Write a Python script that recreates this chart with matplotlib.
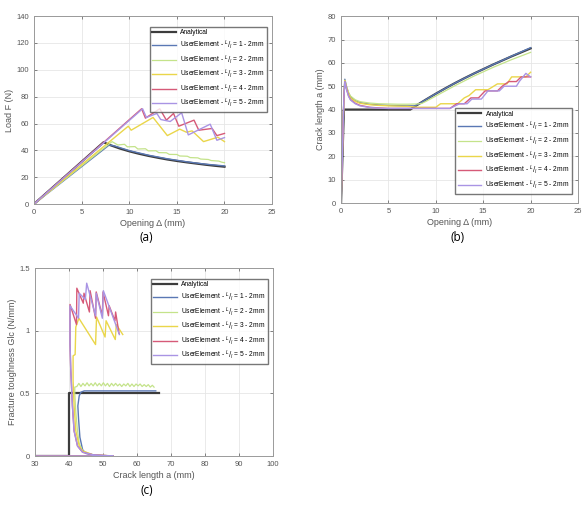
import matplotlib
matplotlib.use("Agg")
import matplotlib.pyplot as plt

plt.rcParams['font.family'] = ['Liberation Sans', 'DejaVu Sans']

# (a) Load F vs opening
d_an = [0, 7.3, 8, 9, 10, 11, 12, 13, 14, 15, 16, 17, 18, 19, 20]
F_an = [0, 46, 43.9, 41.4, 39.3, 37.5, 35.9, 34.5, 33.2, 32.1, 31.1, 30.2, 29.3, 28.5, 27.8]

d_1 = [0, 7.9, 8.5, 10, 12, 14, 16, 18, 20]
F_1 = [0, 44, 43.2, 39.8, 36.4, 33.7, 31.5, 29.7, 28.4]

d_2 = [0, 8.2, 8.8, 9.5, 9.8, 10.6, 10.9, 11.7, 12.0, 12.8, 13.1, 13.9, 14.2, 15.0,
       15.3, 16.1, 16.4, 17.2, 17.5, 18.3, 18.6, 19.4, 19.7, 20]
F_2 = [0, 46.5, 44.0, 44.5, 42.6, 42.8, 41.0, 41.2, 39.6, 39.7, 38.3, 38.2, 37.0, 36.9,
       35.8, 35.6, 34.6, 34.4, 33.5, 33.2, 32.4, 32.0, 31.2, 30.8]

d_3 = [0, 9.9, 10.2, 12.5, 14.0, 15.3, 16.0, 16.6, 17.8, 19.3, 20]
F_3 = [0, 58, 55, 64.5, 51, 55.8, 53.5, 54.5, 46.5, 49.8, 46.5]

d_4 = [0, 11.3, 11.7, 13.2, 13.9, 14.65, 15.2, 16.8, 17.3, 18.7, 19.2, 20]
F_4 = [0, 71, 64, 71, 62.5, 67.5, 58, 62.5, 55, 56.3, 51, 52.6]

d_5 = [0, 11.4, 11.8, 12.9, 13.3, 14.3, 15.5, 16.2, 18.5, 19.2, 20]
F_5 = [0, 71, 64.5, 67.5, 63, 61.5, 68, 51.5, 59.5, 47.5, 49.5]

# (b) crack length vs opening
db_an = [0, 0.3, 7.3, 8, 9, 10, 11, 12, 13, 14, 15, 16, 17, 18, 19, 20]
a_an = [0, 40, 40, 41.9, 44.4, 46.8, 49.1, 51.3, 53.4, 55.4, 57.3, 59.2, 61.0, 62.8, 64.5, 66.2]

db_1 = [0, 0.3, 0.4, 0.6, 0.8, 1, 1.5, 2, 3, 4, 5, 6, 7, 7.8, 8.2, 9, 10, 12, 14, 16, 18, 20]
a_1 = [0, 45, 53, 49.5, 47, 45.5, 43.8, 43, 42.3, 42, 41.8, 41.7, 41.6, 41.6, 42.4,
       44.4, 46.8, 51.3, 55.4, 59.2, 62.9, 66.5]

db_2 = [0, 0.3, 0.4, 0.6, 0.8, 1, 1.5, 2, 3, 4, 5, 6, 7, 8, 8.5, 9, 10, 12, 14, 16, 18, 20]
a_2 = [0, 45, 52.5, 49.5, 47.2, 45.8, 44.2, 43.4, 42.8, 42.5, 42.4, 42.3, 42.3, 42.4, 42.6,
       43.6, 45.8, 50.2, 54.3, 58.0, 61.4, 64.5]

db_3 = [0, 0.3, 0.4, 0.6, 0.8, 1, 1.5, 2, 3, 4, 5, 6, 7, 8, 10, 10.5, 12.3, 13, 13.5, 14.2,
        15.5, 16.5, 17.5, 18, 19.5, 20]
a_3 = [0, 45, 52.5, 49, 46.5, 45, 43.5, 42.7, 42.1, 41.8, 41.6, 41.5, 41.4, 41, 41, 42.5,
       42.5, 45, 46, 48.5, 48.5, 51, 51, 54, 54, 56]

db_4 = [0, 0.3, 0.4, 0.6, 0.8, 1, 1.5, 2, 3, 4, 5, 11.5, 12.2, 13, 13.7, 14.5, 15.2, 16.5,
        17, 17.7, 18.5, 19, 20]
a_4 = [0, 45, 52, 48.5, 45.8, 44.3, 42.7, 41.8, 41.0, 40.7, 40.5, 40.5, 42.5, 42.5, 45, 45,
       48, 48, 50, 52, 52, 54, 54]

db_5 = [0, 0.3, 0.4, 0.6, 0.8, 1, 1.5, 2, 3, 4, 5, 11.5, 12.5, 13.3, 13.8, 14.8, 15.5, 16.7,
        17.2, 18.5, 18.8, 19.5, 20]
a_5 = [0, 45, 52, 48.3, 45.6, 44.1, 42.5, 41.6, 40.9, 40.6, 40.5, 40.5, 42.5, 42.5, 44.5,
       44.5, 48, 48, 50, 50, 52, 55.5, 54]

# (c) fracture toughness vs crack length
ac_an = [30, 40, 40, 66.5]
G_an = [0, 0, 0.5, 0.5]

ac_1 = [30, 53, 48, 45, 44, 43.2, 42.8, 42.6, 43, 43.5, 44.5, 65.5]
G_1 = [0, 0, 0.005, 0.02, 0.05, 0.15, 0.3, 0.4, 0.48, 0.51, 0.52, 0.52]

ac_2 = [30, 53, 47, 44, 43, 42.5, 42, 41.7, 41.7, 42.3, 42.9, 43.5, 44.1, 44.7, 45.3, 45.9,
        46.5, 47.1, 47.7, 48.3, 48.9, 49.5, 50.1, 50.7, 51.3, 51.9, 52.5, 53.1, 53.7, 54.3,
        54.9, 55.5, 56.1, 56.7, 57.3, 57.9, 58.5, 59.1, 59.7, 60.3, 60.9, 61.5, 62.1, 62.7,
        63.3, 63.9, 64.5, 65]
G_2 = [0, 0, 0.01, 0.04, 0.1, 0.2, 0.35, 0.5, 0.55, 0.555, 0.58, 0.555, 0.58, 0.56, 0.585,
       0.56, 0.58, 0.56, 0.585, 0.56, 0.58, 0.56, 0.585, 0.56, 0.58, 0.555, 0.58, 0.56, 0.58,
       0.56, 0.575, 0.555, 0.575, 0.56, 0.58, 0.555, 0.575, 0.555, 0.575, 0.56, 0.575, 0.555,
       0.57, 0.555, 0.57, 0.55, 0.565, 0.55]

ac_3 = [30, 53, 47, 44, 43, 42, 41.5, 41.2, 41.2, 41.8, 42.0, 42.9, 47.8, 48.1, 50.6, 50.9,
        53.6, 53.9, 55.8]
G_3 = [0, 0, 0.01, 0.04, 0.08, 0.2, 0.4, 0.6, 0.8, 0.81, 1.03, 1.1, 0.89, 1.11, 0.95,
       1.08, 0.93, 1.05, 0.97]

ac_4 = [30, 53, 47, 44, 42.5, 41.5, 41, 40.5, 40.3, 40.3, 42.2, 42.3, 44.2, 44.4, 46.0, 46.2,
        47.8, 48.0, 49.8, 50.0, 51.6, 51.8, 53.5, 53.7, 54.7]
G_4 = [0, 0, 0.01, 0.03, 0.08, 0.2, 0.4, 0.7, 0.9, 1.21, 1.05, 1.34, 1.22, 1.30, 1.15, 1.32,
       1.10, 1.31, 1.12, 1.31, 1.12, 1.20, 1.08, 1.15, 0.98]

ac_5 = [30, 53, 47, 44, 42.5, 41.5, 41, 40.5, 40.3, 40.3, 42.8, 43.0, 44.8, 45.2, 47.8, 48.0,
        49.8, 50.1, 54.8]
G_5 = [0, 0, 0.01, 0.03, 0.08, 0.2, 0.4, 0.7, 0.9, 1.20, 1.10, 1.30, 1.25, 1.38, 1.12, 1.30,
       1.10, 1.32, 0.97]

labels = ['Analytical'] + [r'UserElement - $^{L}/_{l}$ = %d - 2mm' % i for i in range(1, 6)]
colors = ['#3c3c3c', '#5a78b4', '#c4e38a', '#ead64a', '#d65a78', '#a994e4']
widths = [1.6, 1.0, 0.9, 1.0, 1.0, 1.0]


def style(ax):
    ax.grid(True, color='#e6e6e6', linewidth=0.6)
    ax.set_axisbelow(True)
    for s in ax.spines.values():
        s.set_color('#9a9a9a')
        s.set_linewidth(0.7)
    ax.tick_params(labelsize=5.5, colors='#555555', length=2, width=0.5,
                   direction='in', top=True, right=True)


def draw(ax, series):
    for (x, y), c, w, l in zip(series, colors, widths, labels):
        ax.plot(x, y, color=c, linewidth=w, label=l)


def legend(ax, loc, anchor):
    ax.legend(loc=loc, bbox_to_anchor=anchor, fontsize=4.8, frameon=True, fancybox=False,
              edgecolor='#555555', handlelength=3.5, labelspacing=0.32, borderpad=0.4,
              handletextpad=0.6, borderaxespad=0.3)


fig = plt.figure(figsize=(5.88, 5.05), dpi=100)

axa = fig.add_axes([0.0578, 0.596, 0.405, 0.372])
draw(axa, [(d_an, F_an), (d_1, F_1), (d_2, F_2), (d_3, F_3), (d_4, F_4), (d_5, F_5)])
axa.set_xlim(0, 25)
axa.set_ylim(0, 140)
axa.set_xlabel('Opening Δ (mm)', fontsize=6.5, color='#555555', labelpad=2)
axa.set_ylabel('Load F (N)', fontsize=6.5, color='#555555', labelpad=2)
style(axa)
legend(axa, 'upper right', (0.985, 0.955))

axb = fig.add_axes([0.580, 0.598, 0.403, 0.370])
draw(axb, [(db_an, a_an), (db_1, a_1), (db_2, a_2), (db_3, a_3), (db_4, a_4), (db_5, a_5)])
axb.set_xlim(0, 25)
axb.set_ylim(0, 80)
axb.set_xlabel('Opening Δ (mm)', fontsize=6.5, color='#555555', labelpad=2)
axb.set_ylabel('Crack length a (mm)', fontsize=6.5, color='#555555', labelpad=2)
style(axb)
legend(axb, 'lower right', (0.985, 0.04))

axc = fig.add_axes([0.0595, 0.097, 0.405, 0.372])
draw(axc, [(ac_an, G_an), (ac_1, G_1), (ac_2, G_2), (ac_3, G_3), (ac_4, G_4), (ac_5, G_5)])
axc.set_xlim(30, 100)
axc.set_ylim(0, 1.5)
axc.set_yticks([0, 0.5, 1, 1.5])
axc.set_yticklabels(['0', '0.5', '1', '1.5'])
axc.set_xlabel('Crack length a (mm)', fontsize=6.5, color='#555555', labelpad=2)
axc.set_ylabel('Fracture toughness Glc (N/mm)', fontsize=6.5, color='#555555', labelpad=2)
style(axc)
legend(axc, 'upper right', (0.985, 0.955))

fig.text(0.249, 0.522, '(a)', fontsize=8.5, ha='center', family=['Open Sans', 'DejaVu Sans'])
fig.text(0.779, 0.522, '(b)', fontsize=8.5, ha='center', family=['Open Sans', 'DejaVu Sans'])
fig.text(0.25, 0.022, '(c)', fontsize=8.5, ha='center', family=['Open Sans', 'DejaVu Sans'])

fig.savefig('out.png', dpi=100)
